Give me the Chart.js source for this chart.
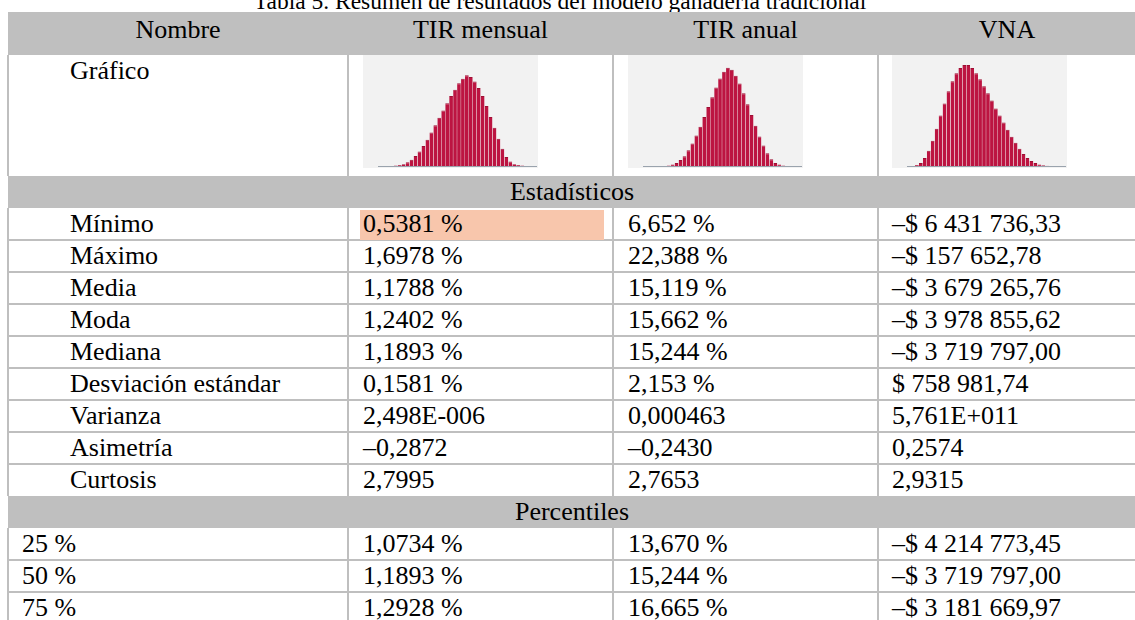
<!DOCTYPE html>
<html><head><meta charset="utf-8">
<script src="https://cdn.jsdelivr.net/npm/chart.js@4.4.1/dist/chart.umd.min.js"></script>
<style>
html,body{margin:0;padding:0;background:#fff;width:1135px;height:620px;overflow:hidden;}
body{position:relative;font-family:"Liberation Serif","Times New Roman",serif;color:#000;}
.t{position:absolute;white-space:nowrap;font-size:26px;line-height:32px;}
.band{position:absolute;background:#BFBFBF;}
.ln{position:absolute;background:#BFBFBF;}
.cv{position:absolute;background:#F2F2F2;}
</style></head><body>
<div id="root"></div>
<script>
// ---------- DATA ----------
const title = "Tabla 5. Resumen de resultados del modelo ganadería tradicional";
const headers = ["Nombre", "TIR mensual", "TIR anual", "VNA"];
const chartRowLabel = "Gráfico";
const statsTitle = "Estadísticos";
const statLabels = ["Mínimo", "Máximo", "Media", "Moda", "Mediana", "Desviación estándar", "Varianza", "Asimetría", "Curtosis"];
const statTirMensual = ["0,5381 %", "1,6978 %", "1,1788 %", "1,2402 %", "1,1893 %", "0,1581 %", "2,498E-006", "–0,2872", "2,7995"];
const statTirAnual = ["6,652 %", "22,388 %", "15,119 %", "15,662 %", "15,244 %", "2,153 %", "0,000463", "–0,2430", "2,7653"];
const statVna = ["–$ 6 431 736,33", "–$ 157 652,78", "–$ 3 679 265,76", "–$ 3 978 855,62", "–$ 3 719 797,00", "$ 758 981,74", "5,761E+011", "0,2574", "2,9315"];
const percTitle = "Percentiles";
const percLabels = ["25 %", "50 %", "75 %"];
const percTirMensual = ["1,0734 %", "1,1893 %", "1,2928 %"];
const percTirAnual = ["13,670 %", "15,244 %", "16,665 %"];
const percVna = ["–$ 4 214 773,45", "–$ 3 719 797,00", "–$ 3 181 669,97"];

// histogram bins (relative frequency)
const binLabels = ["1","2","3","4","5","6","7","8","9","10","11","12","13","14","15","16","17","18","19","20",
                   "21","22","23","24","25","26","27","28","29","30","31","32","33","34","35","36","37","38","39","40"];
const histTirMensual = [0,0,0,0,0.5,1,2,4,7,11,16,22,29,37,45,53,61,69,77,84,91,96,100,98,93,86,77,66,54,42,30,19,10,5,2,1,0.5,0,0,0];
const histTirAnual   = [0,0,0,0,0,0,0.5,1.5,3,6,10,16,23,31,40,50,60,70,80,89,96,100,98,92,84,74,63,52,41,30,21,13,7,3,1.5,0.5,0,0,0,0];
const histVna        = [0,0,1,3,8,15,25,37,50,62,74,84,92,97,100,100,97,92,86,79,72,65,57,50,43,36,29,23,17,12,8,5,3,1.5,0.7,0.3,0,0,0,0];
const histYMax = [120, 111, 108];

// ---------- LAYOUT ----------
const root = document.getElementById('root');
function el(cls, css, text){ const d=document.createElement('div'); d.className=cls; Object.assign(d.style,css); if(text!==undefined) d.textContent=text; root.appendChild(d); return d; }

const colX = [8, 348, 613, 878, 1136];
const tableL = 8, tableR = 1136;
const headTop = 12, headBot = 55, grafBot = 176, rowH = 32;
const statsTop = grafBot + rowH;
const percBandTop = statsTop + statLabels.length*rowH;
const percTop = percBandTop + rowH;
const tableBot = percTop + percLabels.length*rowH;

// title (cut at the top edge, as in the reference)
el('t', {left:'0px', width:'1120px', textAlign:'center', top:'-14px', fontSize:'23.5px', lineHeight:'30px'}, title);

// bands
el('band', {left:tableL+'px', top:headTop+'px', width:(tableR-tableL)+'px', height:(headBot-headTop)+'px'});
el('band', {left:tableL+'px', top:grafBot+'px', width:(tableR-tableL)+'px', height:rowH+'px'});
el('band', {left:tableL+'px', top:percBandTop+'px', width:(tableR-tableL)+'px', height:rowH+'px'});

// vertical lines
const vSegs = [[headBot, grafBot], [statsTop, percBandTop], [percTop, tableBot]];
colX.forEach(x => vSegs.forEach(s => el('ln', {left:(x-1)+'px', top:s[0]+'px', width:'2px', height:(s[1]-s[0])+'px'})));
// horizontal lines
for (let i=1;i<statLabels.length;i++) el('ln', {left:tableL+'px', top:(statsTop+i*rowH-1)+'px', width:(tableR-tableL)+'px', height:'2px'});
for (let i=1;i<percLabels.length;i++) el('ln', {left:tableL+'px', top:(percTop+i*rowH-1)+'px', width:(tableR-tableL)+'px', height:'2px'});

// header texts
headers.forEach((h,i)=> el('t', {left:colX[i]+'px', width:(colX[i+1]-colX[i])+'px', textAlign:'center', top:(headTop+3)+'px', lineHeight:'30px'}, h));
el('t', {left:'70px', top:'56px', lineHeight:'30px'}, chartRowLabel);
el('t', {left:tableL+'px', width:(tableR-tableL)+'px', textAlign:'center', top:grafBot+'px'}, statsTitle);
el('t', {left:tableL+'px', width:(tableR-tableL)+'px', textAlign:'center', top:percBandTop+'px'}, percTitle);

// highlight on minimum of TIR mensual
el('band', {left:'360px', top:(statsTop+2)+'px', width:'244px', height:(rowH-2)+'px', background:'#F8C6AC'});

const valX = [363, 628, 892];
statLabels.forEach((lab,i)=>{
  const y = statsTop + i*rowH;
  el('t', {left:'70px', top:y+'px'}, lab);
  el('t', {left:valX[0]+'px', top:y+'px'}, statTirMensual[i]);
  el('t', {left:valX[1]+'px', top:y+'px'}, statTirAnual[i]);
  el('t', {left:valX[2]+'px', top:y+'px'}, statVna[i]);
});
percLabels.forEach((lab,i)=>{
  const y = percTop + i*rowH;
  el('t', {left:'22px', top:y+'px'}, lab);
  el('t', {left:valX[0]+'px', top:y+'px'}, percTirMensual[i]);
  el('t', {left:valX[1]+'px', top:y+'px'}, percTirAnual[i]);
  el('t', {left:valX[2]+'px', top:y+'px'}, percVna[i]);
});

// ---------- CHARTS ----------
const chartX = [363, 628, 892];
const hists = [histTirMensual, histTirAnual, histVna];
hists.forEach((h, i) => {
  const c = document.createElement('canvas');
  c.width = 175; c.height = 113;
  c.className = 'cv';
  Object.assign(c.style, {left: chartX[i]+'px', top:'55px', width:'175px', height:'113px'});
  root.appendChild(c);
  new Chart(c, {
    type: 'bar',
    data: { labels: binLabels, datasets: [{ data: h, backgroundColor: '#BC1441', borderColor: '#9E0E33',
            borderWidth: {left: 0, right: 0, top: 1, bottom: 0}, borderSkipped: 'bottom',
            barPercentage: 0.95, categoryPercentage: 1.0 }] },
    options: {
      responsive: false, animation: false, devicePixelRatio: 1,
      layout: { padding: { left: 15, right: 2, top: 2, bottom: 2 } },
      plugins: { legend: { display: false }, tooltip: { enabled: false } },
      scales: {
        x: { grid: { display: false, drawTicks: false }, ticks: { display: false },
             border: { display: true, color: '#9AA3AD', width: 1 } },
        y: { display: false, min: 0, max: histYMax[i] }
      }
    }
  });
});
</script>
</body></html>
